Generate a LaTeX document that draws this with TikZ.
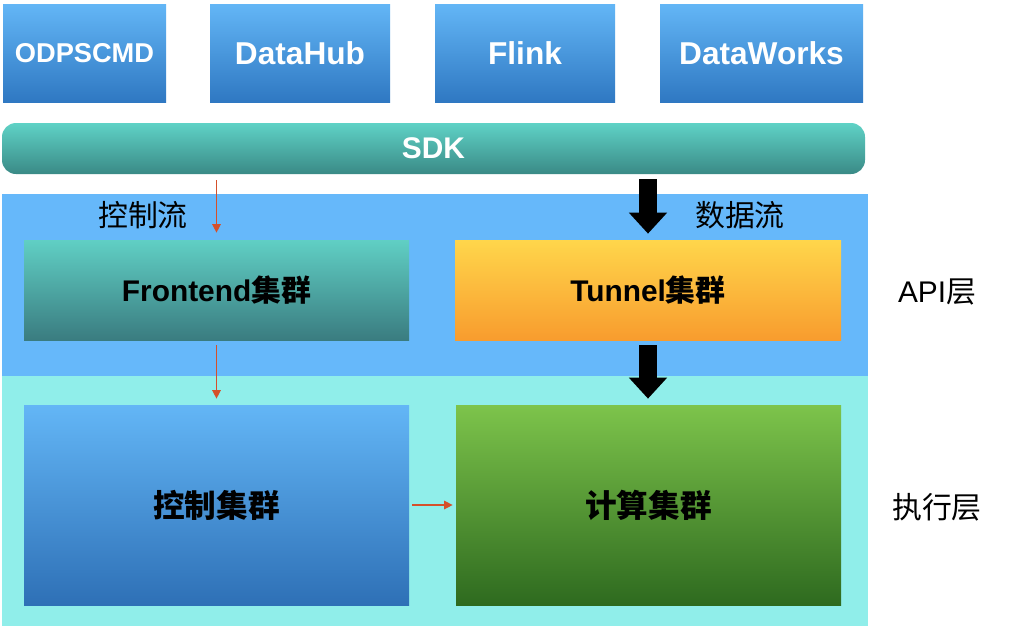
\documentclass[tikz,border=0pt]{standalone}
\usepackage{fontspec}
\setmainfont{Liberation Sans}
\newfontfamily\cjk{Noto Sans CJK SC}
\usetikzlibrary{arrows.meta}
\definecolor{topA}{HTML}{63B6F6}
\definecolor{topB}{HTML}{2F78C2}
\definecolor{sdkA}{HTML}{5FD2C6}
\definecolor{sdkB}{HTML}{3A8A86}
\definecolor{apibg}{HTML}{66B8FA}
\definecolor{execbg}{HTML}{90EEEA}
\definecolor{feA}{HTML}{60CFC4}
\definecolor{feB}{HTML}{3A7C80}
\definecolor{tuA}{HTML}{FFD64B}
\definecolor{tuB}{HTML}{F89C2E}
\definecolor{ctA}{HTML}{63B6F6}
\definecolor{ctB}{HTML}{2E70B6}
\definecolor{cpA}{HTML}{7DC44B}
\definecolor{cpB}{HTML}{2E6A1F}
\definecolor{arrowred}{HTML}{D5502A}
\begin{document}
\begin{tikzpicture}[x=0.02cm,y=-0.02cm,
  topbox/.style={rectangle, inner sep=0pt, top color=topA, bottom color=topB, text=white,
    font=\bfseries\fontsize{18pt}{20pt}\selectfont, minimum height=98*0.02cm},
  sdkbar/.style={rectangle, rounded corners=0.28cm, inner sep=0pt, top color=sdkA, bottom color=sdkB,
    text=white, font=\bfseries\fontsize{17pt}{19pt}\selectfont, minimum height=51*0.02cm, minimum width=863*0.02cm},
  clusterbox/.style={rectangle, inner sep=0pt, text=black, font=\bfseries\fontsize{17pt}{19pt}\selectfont,
    minimum width=385*0.02cm},
  lbl/.style={text=black, inner sep=0pt, font=\fontsize{17pt}{19pt}\selectfont},
  redarrow/.style={draw=arrowred, line width=0.75pt, -{Triangle[width=4.8pt,length=4.8pt]}},
  blackarrow/.style={draw=black, line width=0.36cm, -{Triangle[width=0.74cm,length=0.42cm]}}
]
\useasboundingbox[fill=white] (0,0) rectangle (1013,626);
% layer backgrounds
\fill[apibg] (2,194) rectangle (868,376);
\fill[execbg] (2,376) rectangle (868,626);
% top clients
\node[topbox, minimum width=163*0.02cm, font=\bfseries\fontsize{15.5pt}{18pt}\selectfont] (odps) at (84.5,53) {ODPSCMD};
\node[topbox, minimum width=180*0.02cm] (datahub) at (300,53) {DataHub};
\node[topbox, minimum width=180*0.02cm] (flink) at (525,53) {Flink};
\node[topbox, minimum width=203*0.02cm] (dataworks) at (761.5,53) {DataWorks};
% SDK
\node[sdkbar] (sdk) at (433.5,148.5) {SDK};
% clusters
\node[clusterbox, top color=feA, bottom color=feB, minimum height=100*0.02cm] (frontend) at (216.5,290) {Frontend{\cjk 集群}};
\node[clusterbox, top color=tuA, bottom color=tuB, minimum height=100*0.02cm, minimum width=386*0.02cm] (tunnel) at (648,290) {Tunnel{\cjk 集群}};
\node[clusterbox, top color=ctA, bottom color=ctB, minimum height=200*0.02cm, font=\bfseries\fontsize{18pt}{20pt}\selectfont] (ctrl) at (216.5,505) {\cjk 控制集群};
\node[clusterbox, top color=cpA, bottom color=cpB, minimum height=200*0.02cm, font=\bfseries\fontsize{18pt}{20pt}\selectfont] (compute) at (648.5,505) {\cjk 计算集群};
% labels
\node[lbl] (ctrlflow) at (143,215) {\cjk 控制流};
\node[lbl] (dataflow) at (740,215) {\cjk 数据流};
\node[lbl] (apilayer) at (937,292) {API{\cjk 层}};
\node[lbl] (execlayer) at (937,507) {\cjk 执行层};
% control flow arrows
\draw[redarrow, shorten <=0.12cm, shorten >=0.14cm] (sdk.south -| frontend.north) -- (frontend.north);
\draw[redarrow, shorten <=0.1cm, shorten >=0.12cm] (frontend.south) -- (ctrl.north);
\draw[redarrow, shorten <=0.06cm, shorten >=0.06cm] (ctrl.east) -- (compute.west);
% data flow arrows
\draw[blackarrow, shorten <=0.1cm, shorten >=0.12cm] (sdk.south -| tunnel.north) -- (tunnel.north);
\draw[blackarrow, shorten <=0.1cm, shorten >=0.12cm] (tunnel.south) -- (tunnel.south |- compute.north);
\end{tikzpicture}
\end{document}
